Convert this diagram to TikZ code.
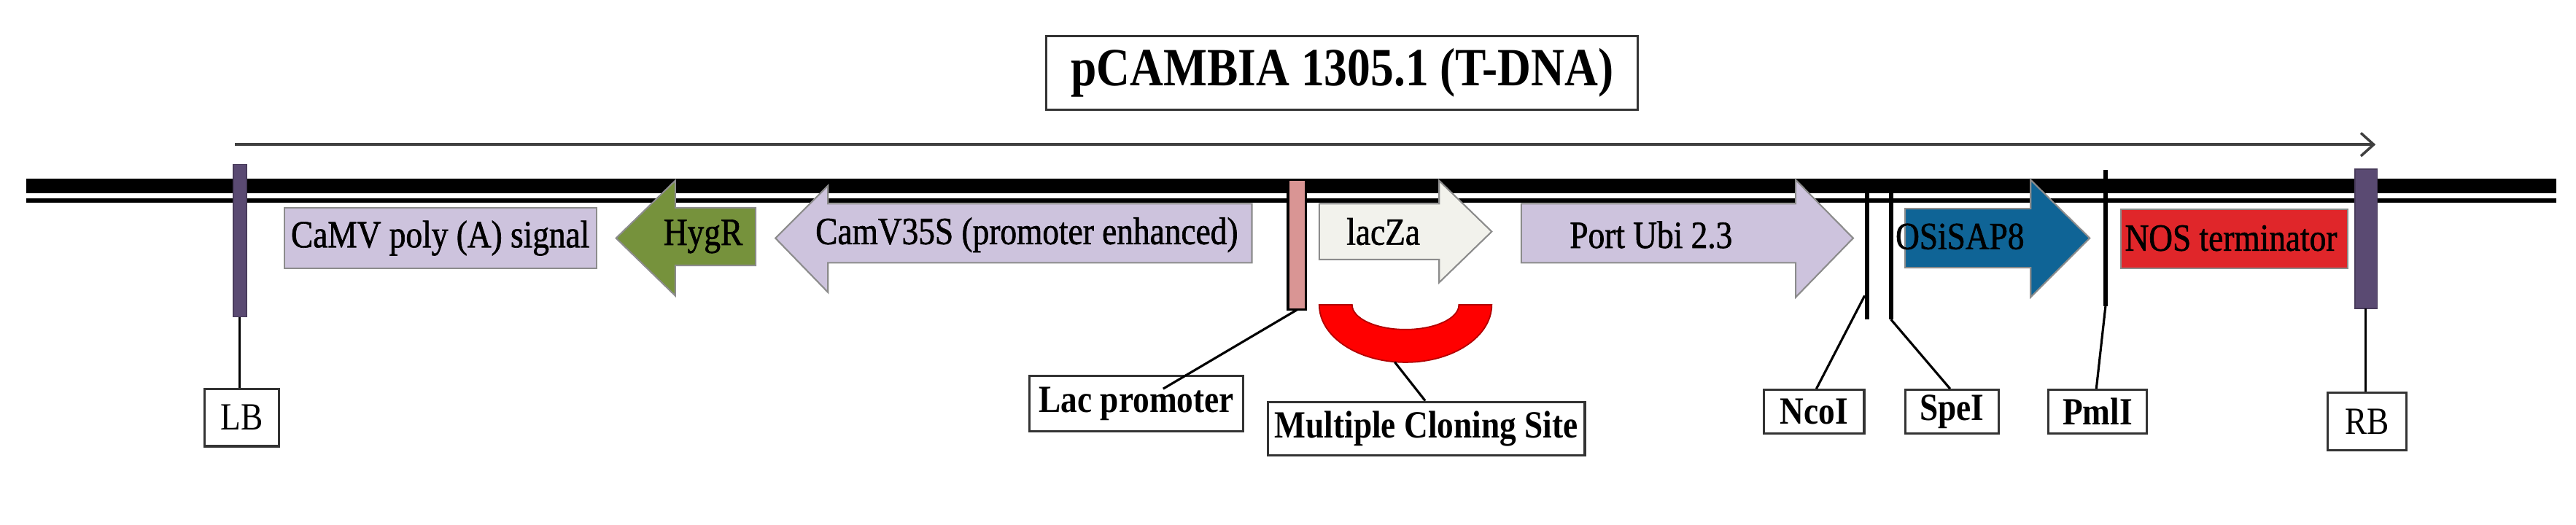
\documentclass[tikz,border=0pt]{standalone}
\usepackage{fontspec}
\setmainfont{Liberation Serif}[FakeStretch=0.86]
\newfontfamily\genefont{Liberation Serif}[FakeStretch=0.86,FakeBold=1.2]
\usetikzlibrary{arrows.meta}
\definecolor{lav}{HTML}{CDC3DD}
\definecolor{olive}{HTML}{76923C}
\definecolor{bord}{HTML}{5A4A72}
\definecolor{pinkb}{HTML}{D99594}
\definecolor{offw}{HTML}{F2F2EC}
\definecolor{blueg}{HTML}{0F6496}
\definecolor{redg}{HTML}{E0262A}
\tikzset{
  gene/.style={draw=black!45, line width=0.6pt},
  txt/.style={font=\fontsize{15}{17}\genefont, inner sep=0pt},
  lbl/.style={draw=black!80, line width=0.9pt, fill=white, font=\fontsize{15}{17}\selectfont\bfseries, inner sep=0pt, anchor=north west},
  lblr/.style={lbl, font=\fontsize{15}{17}\selectfont},
  conn/.style={line width=0.9pt},
  site/.style={line width=1.8pt},
}
\begin{document}
\begin{tikzpicture}[x=0.022526cm,y=-0.022526cm]
\useasboundingbox (0,0) rectangle (1568,319.2);
% title
\node[draw=black!80, line width=0.9pt, minimum width=360*0.022526cm, minimum height=45*0.022526cm, font=\fontsize{21}{24}\selectfont\bfseries] (title) at (817,44.5) {pCAMBIA 1305.1 (T-DNA)};
% top arrow
\coordinate (as) at (143,88);
\coordinate (ae) at (1446,88);
\draw[line width=1pt, draw=black!75, -{Straight Barb[length=5pt,width=9pt]}] (as) -- (ae);
% DNA
\fill (16,108.8) rectangle (1556,117.6);
\fill (16,120.8) rectangle (1556,123.4);
% LB / RB bars
\draw[fill=bord, draw=bord!80!black] (142,100) rectangle (150,193);
\coordinate (lbb) at (146,193);
\draw[fill=bord, draw=bord!80!black] (1433.5,103) rectangle (1447,187.8);
\coordinate (rbb) at (1440,187.8);
% CaMV poly A
\draw[gene, fill=lav] (173,126.5) rectangle (363,163.5);
\node[txt] (polyA) at (268,145) {CaMV poly (A) signal};
% HygR
\draw[gene, fill=olive] (375,145) -- (411,110) -- (411,126.5) -- (460,126.5) -- (460,161.6) -- (411,161.6) -- (411,180) -- cycle;
\node[txt] (hyg) at (428,144) {HygR};
% CamV35S
\draw[gene, fill=lav] (472,145) -- (504,113) -- (504,124) -- (762,124) -- (762,160) -- (504,160) -- (504,178) -- cycle;
\node[txt] (camv) at (625,143) {CamV35S (promoter enhanced)};
% Lac promoter bar
\draw[fill=pinkb, line width=0.9pt] (784,109.6) rectangle (795,188.6);
\coordinate (lacb) at (789.5,188.6);
% lacZa
\draw[gene, fill=offw] (803,124) -- (876,124) -- (876,110) -- (908,141) -- (876,172) -- (876,158) -- (803,158) -- cycle;
\node[txt] (lacz) at (842,141) {lacZa};
% Port Ubi
\draw[gene, fill=lav] (926,124) -- (1093,124) -- (1093,109.5) -- (1128,145) -- (1093,181) -- (1093,160) -- (926,160) -- cycle;
\node[txt] (ubi) at (1005,143) {Port Ubi 2.3};
% MCS half ring
\draw[fill=red, draw=red!70!black, line width=0.5pt] (803,185.6) arc[start angle=180,end angle=360,x radius=52.5,y radius=-35] -- (888,185.6) arc[start angle=0,end angle=-180,x radius=32.5,y radius=-15] -- cycle;
\coordinate (mcsb) at (849,220.5);
% OSiSAP8
\draw[gene, fill=blueg] (1159.6,127) -- (1236,127) -- (1236,109.5) -- (1272,145) -- (1236,181) -- (1236,163) -- (1159.6,163) -- cycle;
\node[txt] (osi) at (1193,144) {OSiSAP8};
% NOS
\draw[gene, fill=redg] (1291,127.5) rectangle (1429,163.5);
\node[txt] (nos) at (1358,145) {NOS terminator};
% restriction sites
\coordinate (ncot) at (1136.6,117);
\coordinate (ncob) at (1136.6,194.5);
\coordinate (ncoj) at (1135,180);
\coordinate (spet) at (1151,117);
\coordinate (speb) at (1151,194.5);
\coordinate (pmlt) at (1281.6,103.5);
\coordinate (pmlb) at (1281.6,186.5);
\draw[site] (ncot) -- (ncob);
\draw[site] (spet) -- (speb);
\draw[site] (pmlt) -- (pmlb);
% label boxes
\node[lblr, minimum width=45*0.022526cm, minimum height=35*0.022526cm] (LB) at (124,236) {LB};
\node[lblr, minimum width=48*0.022526cm, minimum height=35*0.022526cm] (RB) at (1416,238.5) {RB};
\node[lbl, minimum width=130*0.022526cm, minimum height=34*0.022526cm] (lacp) at (626,228) {Lac promoter};
\node[lbl, minimum width=193*0.022526cm, minimum height=32.5*0.022526cm] (mcs) at (771,244) {Multiple Cloning Site};
\node[lbl, minimum width=61*0.022526cm, minimum height=26.5*0.022526cm] (nco) at (1073,236.7) {NcoI};
\node[lbl, minimum width=57*0.022526cm, minimum height=26.5*0.022526cm] (spe) at (1159,236.7) {SpeI};
\node[lbl, minimum width=60*0.022526cm, minimum height=26.5*0.022526cm] (pml) at (1246,236.7) {PmlI};
% connectors
\coordinate (lacj) at (708,236.7);
\coordinate (mcsj) at (867.5,244);
\coordinate (ncoe) at (1105.6,236.7);
\coordinate (spee) at (1187,236.7);
\coordinate (pmle) at (1276,236.7);
\draw[conn] (lbb) -- (lbb |- LB.north);
\draw[conn] (rbb) -- (rbb |- RB.north);
\draw[conn] (lacb) -- (lacj);
\draw[conn] (mcsb) -- (mcsj);
\draw[conn] (ncoj) -- (ncoe);
\draw[conn] (speb) -- (spee);
\draw[conn] (pmlb) -- (pmle);
\end{tikzpicture}
\end{document}
